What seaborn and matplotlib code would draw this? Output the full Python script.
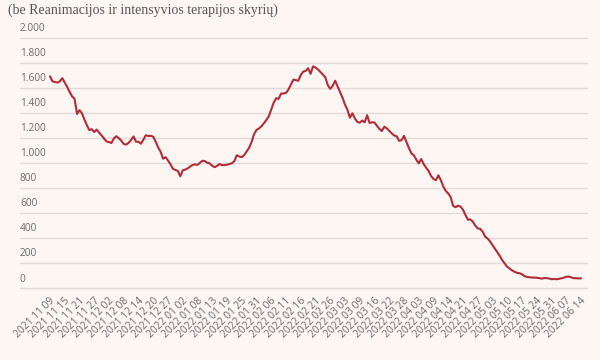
import numpy as np
import pandas as pd
import seaborn as sns
import matplotlib.pyplot as plt
from matplotlib.transforms import ScaledTranslation

# pacientai ligoninėse (be reanimacijos ir intensyvios terapijos skyrių)
pacientai = [
    1690, 1650, 1645, 1640, 1650, 1675, 1640, 1605, 1565, 1530,
    1510, 1390, 1420, 1395, 1345, 1300, 1261, 1268, 1245, 1265,
    1240, 1218, 1193, 1170, 1165, 1158, 1195, 1212, 1196, 1176,
    1150, 1145, 1160, 1182, 1210, 1168, 1168, 1152, 1185, 1220,
    1213, 1215, 1208, 1168, 1122, 1088, 1032, 1045, 1018, 988,
    952, 942, 935, 892, 940, 945, 955, 970, 982, 987,
    983, 1000, 1016, 1013, 1000, 995, 975, 965, 975, 990,
    981, 981, 985, 990, 996, 1013, 1060, 1050, 1045, 1062,
    1090, 1120, 1165, 1228, 1262, 1274, 1291, 1315, 1341, 1370,
    1425, 1480, 1515, 1510, 1552, 1553, 1558, 1585, 1624, 1664,
    1660, 1654, 1700, 1728, 1733, 1755, 1710, 1770, 1760, 1745,
    1725, 1703, 1682, 1620, 1590, 1615, 1655, 1610, 1565, 1518,
    1464, 1422, 1360, 1395, 1355, 1326, 1320, 1337, 1323, 1380,
    1318, 1323, 1321, 1295, 1270, 1253, 1288, 1275, 1255, 1235,
    1218, 1212, 1175, 1180, 1215, 1165, 1118, 1075, 1060, 1025,
    995, 1030, 990, 960, 935, 895, 870, 862, 900,
    860, 810, 775, 755, 725, 655, 645, 657, 650, 625,
    583, 545, 548, 530, 498, 476, 472, 450, 410, 395,
    372, 343, 313, 285, 255, 221, 195, 169, 154, 140,
    129, 121, 118, 110, 95, 88, 86, 84, 83, 82,
    79, 75, 79, 79, 76, 70, 72, 70, 73, 77,
    82, 90, 91, 85, 79, 78, 77, 77,
]

datos = [
    "2021 11 09", "2021 11 15", "2021 11 21", "2021 11 27", "2021 12 02",
    "2021 12 08", "2021 12 14", "2021 12 20", "2021 12 27", "2022 01 02",
    "2022 01 08", "2022 01 13", "2022 01 19", "2022 01 25", "2022 01 31",
    "2022 02 06", "2022 02 11", "2022 02 16", "2022 02 21", "2022 02 26",
    "2022 03 03", "2022 03 09", "2022 03 16", "2022 03 22", "2022 03 28",
    "2022 04 03", "2022 04 09", "2022 04 14", "2022 04 21", "2022 04 27",
    "2022 05 03", "2022 05 10", "2022 05 17", "2022 05 24", "2022 05 31",
    "2022 06 07", "2022 06 14",
]
kas_kiek = 6

y_reiksmes = [0, 200, 400, 600, 800, 1000, 1200, 1400, 1600, 1800, 2000]
y_etiketes = ["0", "200", "400", "600", "800", "1.000", "1.200", "1.400",
              "1.600", "1.800", "2.000"]

fonas = "#fdf6f3"
pilka = "#6a6a6a"

df = pd.DataFrame({"diena": np.arange(len(pacientai)), "pacientai": pacientai})

sns.set_theme(style="white")
plt.rcParams["font.family"] = ["Open Sans", "DejaVu Sans"]

fig = plt.figure(figsize=(6, 3.6), dpi=100, facecolor=fonas)
ax = fig.add_axes([20 / 600, 1 - 292 / 360, 568 / 600, 262 / 360], facecolor=fonas)

sns.lineplot(data=df, x="diena", y="pacientai", ax=ax, color="#b02c38", linewidth=1.5)

ax.set_xlim(-12.2, 218.85)
ax.set_ylim(-31.9, 2059.9)

ax.set_yticks(y_reiksmes)
ax.set_yticklabels([])
ax.tick_params(axis="y", length=0)
ax.yaxis.grid(True, color="#e0dcda", linewidth=1)
for v, t in zip(y_reiksmes, y_etiketes):
    ax.annotate(t, xy=(0, v), xycoords=("axes fraction", "data"), xytext=(0, 2.5),
                textcoords="offset points", ha="left", va="bottom",
                fontsize=7.3, color=pilka)

ax.set_xticks(np.arange(len(datos)) * kas_kiek)
ax.set_xticklabels(datos, rotation=45, ha="right", va="center",
                   rotation_mode="anchor", fontsize=7.4, color=pilka)
ax.tick_params(axis="x", length=0, pad=5)
poslinkis = ScaledTranslation(2.5 / 72, 0, fig.dpi_scale_trans)
for lbl in ax.get_xticklabels():
    lbl.set_transform(lbl.get_transform() + poslinkis)

ax.set_xlabel("")
ax.set_ylabel("")
sns.despine(ax=ax, left=True, bottom=True)

fig.text(8 / 600, 1 - 10 / 360, "(be Reanimacijos ir intensyvios terapijos skyrių)",
         ha="left", va="center", fontsize=10, color="#555555",
         family=["Liberation Serif", "DejaVu Serif"])

fig.savefig("out.png", dpi=100, facecolor=fonas)
